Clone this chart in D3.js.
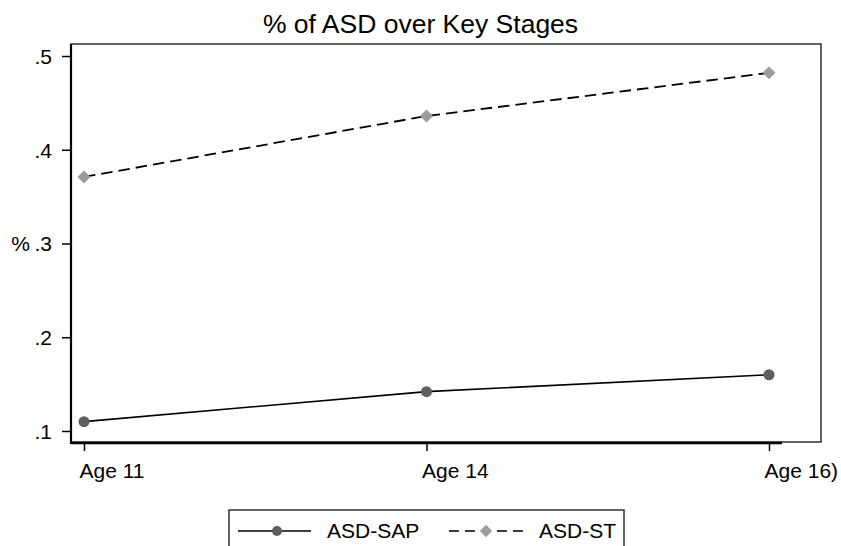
<!DOCTYPE html>
<html>
<head>
<meta charset="utf-8">
<script src="https://cdn.jsdelivr.net/npm/d3@7"></script>
<style>
  body { margin: 0; background: #fff; }
  text { font-family: "Liberation Sans", Arial, sans-serif; fill: #000; }
</style>
</head>
<body>
<div id="chart"></div>
<script>
// data
let stages = ['Age 11', 'Age 14', 'Age 16)'];
let sapValues = [0.110, 0.142, 0.160];
let stValues = [0.371, 0.436, 0.482];
let yTicks = [0.1, 0.2, 0.3, 0.4, 0.5];

let width = 841;
let height = 546;

// plot region (Stata-style box)
let plotLeft = 71, plotTop = 44, plotRight = 821, plotBottom = 443;

let svg = d3.select('#chart')
  .append('svg')
  .attr('width', width)
  .attr('height', height);

let x = d3.scalePoint()
  .domain(stages)
  .range([84, 769]);

let y = d3.scaleLinear()
  .domain([0.1, 0.5])
  .range([431, 56]);

// thin frame round the plot
svg.append('rect')
  .attr('x', plotLeft)
  .attr('y', plotTop)
  .attr('width', plotRight - plotLeft)
  .attr('height', plotBottom - 1 - plotTop)
  .attr('fill', 'none')
  .attr('stroke', '#222')
  .attr('stroke-width', 1.4);

// title
svg.append('text')
  .attr('x', width / 2)
  .attr('y', 33)
  .attr('text-anchor', 'middle')
  .style('font-size', '26.5px')
  .text('% of ASD over Key Stages');

// y axis
let yAxis = svg.append('g')
  .attr('transform', 'translate(' + plotLeft + ',0)')
  .call(d3.axisLeft(y)
    .tickValues(yTicks)
    .tickSize(9)
    .tickPadding(10)
    .tickFormat(d => d3.format('.1f')(d).replace(/^0/, '')));
yAxis.select('.domain').remove();
yAxis.selectAll('.tick line').attr('stroke', '#000').attr('stroke-width', 1.5);
yAxis.selectAll('.tick text')
  .attr('dy', '0.35em')
  .style('font-size', '21px')
  .attr('fill', '#000');

svg.append('line')
  .attr('x1', plotLeft).attr('x2', plotLeft)
  .attr('y1', plotTop).attr('y2', plotBottom + 1)
  .attr('stroke', '#000')
  .attr('stroke-width', 2.2);

// y title sits level with the middle tick
svg.append('text')
  .attr('x', 30)
  .attr('y', y(0.3))
  .attr('dy', '0.35em')
  .attr('text-anchor', 'end')
  .style('font-size', '21px')
  .text('%');

// x axis
let xAxis = svg.append('g')
  .attr('transform', 'translate(0,' + plotBottom + ')')
  .call(d3.axisBottom(x).tickSize(8).tickPadding(12));
xAxis.select('.domain').remove();
xAxis.selectAll('.tick line').attr('stroke', '#000').attr('stroke-width', 1.5);
xAxis.selectAll('.tick text')
  .attr('text-anchor', 'start')
  .attr('x', -5)
  .style('font-size', '21px')
  .attr('fill', '#000');

svg.append('line')
  .attr('x1', plotLeft).attr('x2', x(stages[stages.length - 1]) + 13)
  .attr('y1', plotBottom).attr('y2', plotBottom)
  .attr('stroke', '#000')
  .attr('stroke-width', 2.4);

// lines
let line = d3.line()
  .x((d, i) => x(stages[i]))
  .y(d => y(d));

svg.append('path')
  .datum(stValues)
  .attr('d', line)
  .attr('fill', 'none')
  .attr('stroke', '#000')
  .attr('stroke-width', 1.8)
  .attr('stroke-dasharray', '11.5,6');

svg.append('path')
  .datum(sapValues)
  .attr('d', line)
  .attr('fill', 'none')
  .attr('stroke', '#000')
  .attr('stroke-width', 1.6);

// markers
let diamond = d3.symbol().type(d3.symbolSquare).size(84);

svg.selectAll('.st-mark')
  .data(stValues)
  .enter()
  .append('path')
  .attr('class', 'st-mark')
  .attr('d', diamond)
  .attr('transform', (d, i) => 'translate(' + x(stages[i]) + ',' + y(d) + ') rotate(45)')
  .attr('fill', '#9c9c9c');

svg.selectAll('.sap-mark')
  .data(sapValues)
  .enter()
  .append('circle')
  .attr('class', 'sap-mark')
  .attr('cx', (d, i) => x(stages[i]))
  .attr('cy', d => y(d))
  .attr('r', 5.5)
  .attr('fill', '#5f5f5f');

// legend (box runs off the bottom edge like the original)
let legend = svg.append('g');
legend.append('rect')
  .attr('x', 229)
  .attr('y', 510)
  .attr('width', 395)
  .attr('height', 60)
  .attr('fill', 'none')
  .attr('stroke', '#222')
  .attr('stroke-width', 1.4);

let ly = 531;
legend.append('line')
  .attr('x1', 238).attr('x2', 311)
  .attr('y1', ly).attr('y2', ly)
  .attr('stroke', '#000').attr('stroke-width', 1.6);
legend.append('circle')
  .attr('cx', 277).attr('cy', ly).attr('r', 5)
  .attr('fill', '#5f5f5f');
legend.append('text')
  .attr('x', 327).attr('y', ly)
  .attr('dy', '0.35em')
  .style('font-size', '21px')
  .text('ASD-SAP');

legend.append('line')
  .attr('x1', 449).attr('x2', 525)
  .attr('y1', ly).attr('y2', ly)
  .attr('stroke', '#000').attr('stroke-width', 1.6)
  .attr('stroke-dasharray', '10,6');
legend.append('path')
  .attr('d', d3.symbol().type(d3.symbolSquare).size(76))
  .attr('transform', 'translate(486,' + ly + ') rotate(45)')
  .attr('fill', '#9c9c9c');
legend.append('text')
  .attr('x', 539).attr('y', ly)
  .attr('dy', '0.35em')
  .style('font-size', '21px')
  .text('ASD-ST');
</script>
</body>
</html>
